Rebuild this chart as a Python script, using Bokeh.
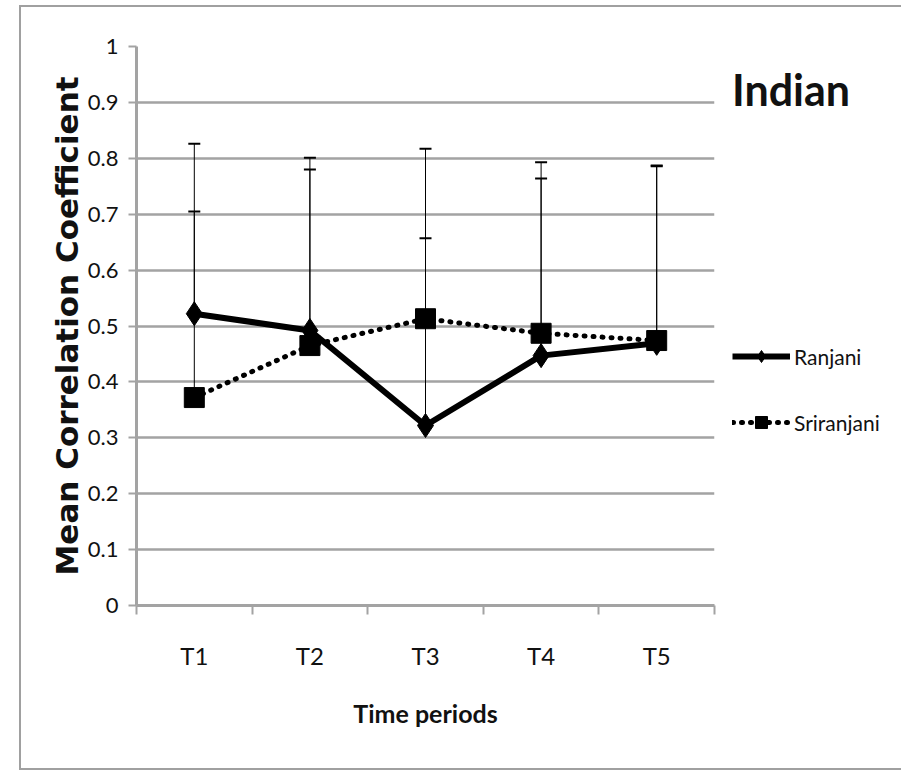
from bokeh.plotting import figure
from bokeh.models import (FixedTicker, Whisker, TeeHead, ColumnDataSource, Legend,
                          LegendItem)
from bokeh.embed import file_html
from bokeh.resources import INLINE

# ---- data ----
periods = ["T1", "T2", "T3", "T4", "T5"]
ranjani = [0.522, 0.492, 0.322, 0.447, 0.469]
sriranjani = [0.372, 0.465, 0.513, 0.487, 0.474]
ranjani_upper = [0.826, 0.801, 0.817, 0.793, 0.787]
sriranjani_upper = [0.705, 0.780, 0.657, 0.764, 0.786]
y_ticks = [0, 0.1, 0.2, 0.3, 0.4, 0.5, 0.6, 0.7, 0.8, 0.9, 1]
y_tick_labels = ["0", "0.1", "0.2", "0.3", "0.4", "0.5", "0.6", "0.7", "0.8", "0.9", "1"]
chart_title = "Indian"

xpos = [i + 0.5 for i in range(len(periods))]
bounds = list(range(len(periods) + 1))

FONT = "Lato"
GRAY = "#a3a3a3"
TXT = "#111111"

p = figure(frame_width=578, frame_height=559, output_backend="svg", toolbar_location=None,
           x_range=(0, len(periods)), y_range=(0, 1),
           min_border_left=115, min_border_right=179, min_border_top=39,
           min_border_bottom=163)
p.styles = {"border": "2px solid #a0a0a0", "margin-left": "19px", "margin-top": "5px"}
p.outline_line_color = None
p.background_fill_color = "white"
p.border_fill_color = "white"

# grid
p.xgrid.grid_line_color = None
p.ygrid.grid_line_color = GRAY
p.ygrid.grid_line_width = 2.5
p.ygrid.ticker = FixedTicker(ticks=y_ticks)

# y axis
p.yaxis.ticker = FixedTicker(ticks=y_ticks)
p.yaxis.major_label_overrides = {t: l for t, l in zip(y_ticks, y_tick_labels)}
p.yaxis.axis_line_color = GRAY
p.yaxis.axis_line_width = 3
p.yaxis.major_tick_line_color = GRAY
p.yaxis.major_tick_line_width = 2
p.yaxis.major_tick_out = 8
p.yaxis.major_tick_in = 0
p.yaxis.minor_tick_line_color = None
p.yaxis.major_label_text_font = FONT
p.yaxis.major_label_text_font_size = "22px"
p.yaxis.major_label_text_color = TXT
p.yaxis.major_label_standoff = 10
p.yaxis.axis_label = "Mean Correlation Coefficient"
p.yaxis.axis_label_text_font = "DejaVu Sans"
p.yaxis.axis_label_text_font_style = "bold"
p.yaxis.axis_label_text_font_size = "31px"
p.yaxis.axis_label_text_color = TXT
p.yaxis.axis_label_standoff = 0

# x axis
p.xaxis.ticker = FixedTicker(ticks=xpos, minor_ticks=bounds)
p.xaxis.major_label_overrides = {x: l for x, l in zip(xpos, periods)}
p.xaxis.axis_line_color = GRAY
p.xaxis.axis_line_width = 3
p.xaxis.major_tick_line_color = None
p.xaxis.major_tick_out = 0
p.xaxis.major_tick_in = 0
p.xaxis.minor_tick_line_color = GRAY
p.xaxis.minor_tick_line_width = 2
p.xaxis.minor_tick_out = 9
p.xaxis.minor_tick_in = 0
p.xaxis.major_label_text_font = FONT
p.xaxis.major_label_text_font_size = "24px"
p.xaxis.major_label_text_color = TXT
p.xaxis.major_label_standoff = 26
p.xaxis.axis_label = "Time periods"
p.xaxis.axis_label_text_font = FONT
p.xaxis.axis_label_text_font_style = "bold"
p.xaxis.axis_label_text_font_size = "25px"
p.xaxis.axis_label_text_color = TXT
p.xaxis.axis_label_standoff = 25

# error bars (upper only)
src_r = ColumnDataSource(dict(x=xpos, y=ranjani, up=ranjani_upper))
src_s = ColumnDataSource(dict(x=xpos, y=sriranjani, up=sriranjani_upper))
for src in (src_r, src_s):
    w = Whisker(base="x", lower="y", upper="up", source=src, dimension="height",
                line_color="black", line_width=1,
                upper_head=TeeHead(size=12, line_color="black", line_width=2),
                lower_head=None, level="underlay")
    p.add_layout(w)

# series
r_line = p.line("x", "y", source=src_r, line_color="black", line_width=6)
r_mark = p.scatter("x", "y", source=src_r, marker="diamond", size=24,
                   fill_color="black", line_color="black")
s_line = p.line("x", "y", source=src_s, line_color="black", line_width=5,
                line_dash="1 8", line_cap="round")
s_mark = p.scatter("x", "y", source=src_s, marker="square", size=20,
                   fill_color="black", line_color="black")

legend = Legend(items=[LegendItem(label="Ranjani", renderers=[r_line, r_mark]),
                       LegendItem(label="Sriranjani", renderers=[s_line, s_mark])],
                location="top_left", orientation="vertical",
                title=chart_title, title_text_font=FONT, title_text_font_style="bold",
                title_text_font_size="43px", title_text_color=TXT, title_standoff=226,
                glyph_width=58, glyph_height=30, spacing=36, padding=0, margin=18,
                label_standoff=4, border_line_color=None,
                background_fill_alpha=0,
                label_text_font=FONT, label_text_font_size="21px",
                label_text_color=TXT)
p.add_layout(legend, "right")

open("out.html", "w").write(file_html(p, INLINE))
